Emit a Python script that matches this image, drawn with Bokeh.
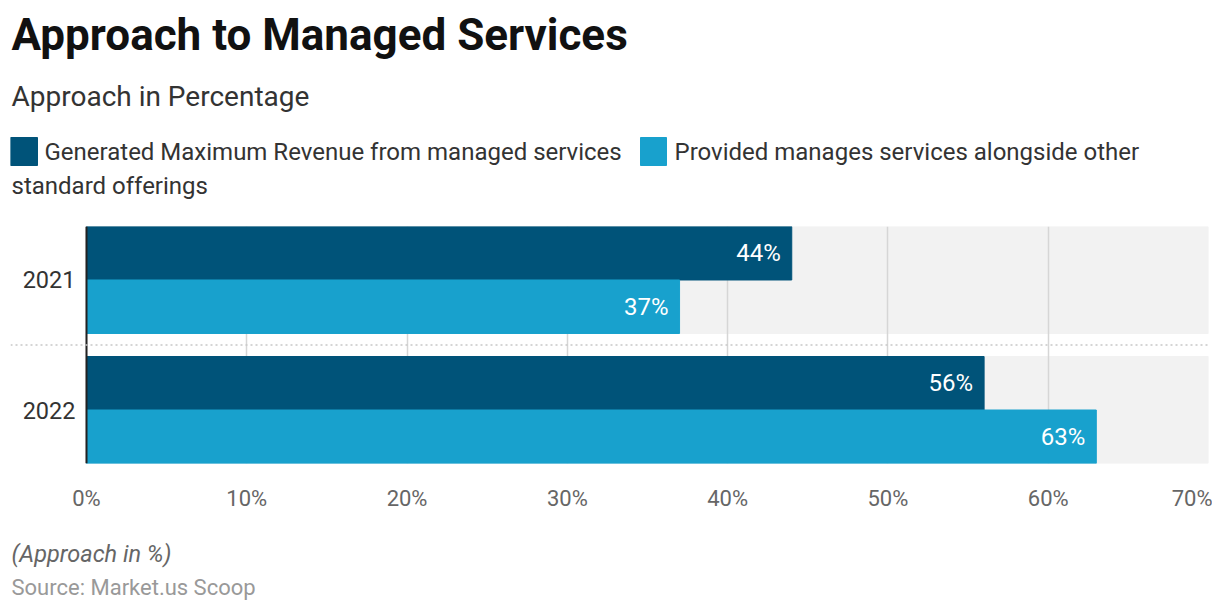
from bokeh.plotting import figure
from bokeh.layouts import column
from bokeh.models import Range1d, FixedTicker, Span, PrintfTickFormatter
from bokeh.embed import file_html
from bokeh.resources import INLINE
from bokeh.core.properties import value

# ---- data ----
years = ["2021", "2022"]
max_revenue = [44, 56]
alongside = [37, 63]
series_names = ["Generated Maximum Revenue from managed services",
                "Provided manages services alongside other standard offerings"]
x_ticks = [0, 10, 20, 30, 40, 50, 60, 70]
colors = ["#005379", "#18a1cd"]
title = "Approach to Managed Services"
subtitle = "Approach in Percentage"
note = "(Approach in %)"
source = "Source: Market.us Scoop"

FONT = "Roboto"
W = 1212
frame_left, axis_x, frame_right = 10, 86, 1208


def blank_fig(h):
    f = figure(width=W, height=h, output_backend="svg", toolbar_location=None,
               x_range=Range1d(frame_left, frame_right), y_range=Range1d(h, 0),
               x_axis_location=None, y_axis_location=None, title=None,
               min_border=0, min_border_left=frame_left, min_border_right=W - frame_right,
               min_border_top=0, min_border_bottom=0, outline_line_color=None)
    f.grid.visible = False
    return f


def htext(fig, x, y, t, size, color, style="normal"):
    fig.text(x=[x], y=[y], text=[t], text_font=value(FONT), text_font_size=size,
             text_color=color, text_font_style=style, text_baseline="alphabetic",
             text_align="left")


# ---------------- header ----------------
HH = 226
head = blank_fig(HH)
htext(head, 11, 34, title, "44px", "#111111", "bold")
htext(head, 11, 96, subtitle, "28px", "#333333")
head.quad(left=[10], right=[37], top=[137], bottom=[165], color=colors[0])
htext(head, 44, 151, series_names[0], "24px", "#333333")
head.quad(left=[640], right=[666], top=[137], bottom=[165], color=colors[1])
words = series_names[1].split(" ")
htext(head, 674, 151, " ".join(words[:5]), "24px", "#333333")
htext(head, 11, 185, " ".join(words[5:]), "24px", "#333333")

# ---------------- main chart ----------------
x_max = x_ticks[-1]
px_per_unit = (frame_right - axis_x) / x_max
x_start = -(axis_x - frame_left) / px_per_unit

n = len(years)
pos = [n - 1 - i for i in range(n)]          # first year on top
band_half = 0.4115
bar_h = band_half
off = band_half / 2

FH = 237
MB = 57
p = figure(width=W, height=FH + MB, output_backend="svg", toolbar_location=None,
           x_range=Range1d(x_start, x_max), y_range=Range1d(-band_half, n - 1 + band_half),
           min_border_left=frame_left, min_border_right=W - frame_right,
           min_border_top=0, min_border_bottom=MB)
p.outline_line_color = None

p.hbar(y=pos, left=0, right=x_max, height=2 * band_half, color="#f2f2f2", level="image")

y1 = [v + off for v in pos]
y2 = [v - off for v in pos]
p.hbar(y=y1, left=0, right=max_revenue, height=bar_h, color=colors[0])
p.hbar(y=y2, left=0, right=alongside, height=bar_h, color=colors[1])

for xs, ys in ((max_revenue, y1), (alongside, y2)):
    p.text(x=xs, y=ys, text=[f"{v}%" for v in xs], x_offset=-11,
           text_align="right", text_baseline="middle", text_color="white",
           text_font=value(FONT), text_font_size="24px")

for i in range(n - 1):
    ymid = (pos[i] + pos[i + 1]) / 2
    p.add_layout(Span(location=ymid, dimension="width", line_color="#c8c8c8",
                      line_width=1.5, line_dash="2 3"))

p.xaxis.ticker = FixedTicker(ticks=x_ticks)
p.xaxis.formatter = PrintfTickFormatter(format="%d%%")
p.xaxis.axis_line_color = None
p.xaxis.major_tick_line_color = None
p.xaxis.minor_tick_line_color = None
p.xaxis.major_label_standoff = 16
p.xaxis.major_label_text_font = FONT
p.xaxis.major_label_text_font_size = "22px"
p.xaxis.major_label_text_color = "#666666"

p.yaxis.fixed_location = 0
p.yaxis.ticker = FixedTicker(ticks=pos)
p.yaxis.major_label_overrides = {float(pv): y for pv, y in zip(pos, years)}
p.yaxis.axis_line_color = "#222222"
p.yaxis.axis_line_width = 2
p.yaxis.major_tick_line_color = None
p.yaxis.minor_tick_line_color = None
p.yaxis.major_label_standoff = 5
p.yaxis.major_label_text_font = FONT
p.yaxis.major_label_text_font_size = "23.5px"
p.yaxis.major_label_text_color = "#333333"

p.xgrid.ticker = FixedTicker(ticks=x_ticks)
p.xgrid.grid_line_color = "#d6d6d6"
p.xgrid.grid_line_width = 1.5
p.ygrid.grid_line_color = None

# ---------------- footer ----------------
FTH = 90
foot = blank_fig(FTH)
htext(foot, 11, 33, note, "23.5px", "#666666", "italic")
htext(foot, 11, 67, source, "22px", "#999999")

layout = column(head, p, foot, spacing=0)
open("out.html", "w").write(file_html(layout, INLINE))
